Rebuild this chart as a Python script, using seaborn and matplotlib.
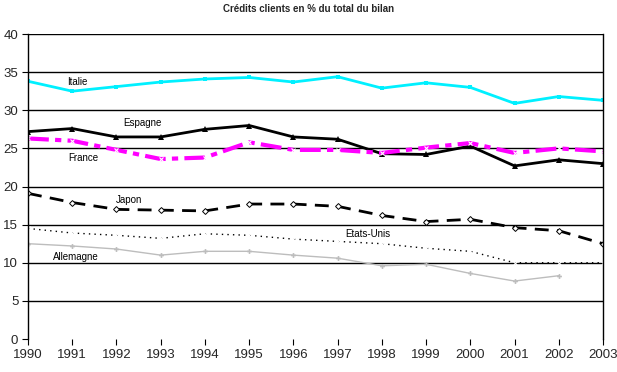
import numpy as np
import matplotlib
matplotlib.use("Agg")
import matplotlib.pyplot as plt
import seaborn as sns

# data
years = list(range(1990, 2004))
italie = [33.8, 32.5, 33.1, 33.7, 34.1, 34.3, 33.7, 34.4, 32.9, 33.6, 33.0, 30.9, 31.8, 31.3]
espagne = [27.2, 27.6, 26.5, 26.5, 27.5, 28.0, 26.5, 26.2, 24.3, 24.2, 25.3, 22.7, 23.5, 23.0]
france = [26.3, 26.0, 24.8, 23.6, 23.8, 25.8, 24.8, 24.8, 24.4, 25.1, 25.7, 24.4, 25.0, 24.6]
japon = [19.1, 17.9, 17.0, 16.9, 16.8, 17.7, 17.7, 17.4, 16.2, 15.4, 15.7, 14.6, 14.2, 12.5]
etats_unis = [14.5, 13.9, 13.6, 13.2, 13.8, 13.6, 13.1, 12.8, 12.5, 11.9, 11.5, 10.0, 10.0, 10.0]
allemagne = [12.5, 12.2, 11.8, 11.0, 11.5, 11.5, 11.0, 10.6, 9.6, 9.8, 8.6, 7.6, 8.3, np.nan]

sns.set_style("white")
plt.rcParams['font.family'] = ['Liberation Sans', 'DejaVu Sans']

fig = plt.figure(figsize=(6.17, 3.72), dpi=100)
ax = fig.add_axes([0.0454, 0.0887, 0.9319, 0.8199])

for y in range(5, 45, 5):
    ax.axhline(y, color='black', lw=1, zorder=1)

sns.lineplot(x=years, y=italie, ax=ax, color='#00F0FF', lw=2, marker='s', markersize=3.5,
             markeredgewidth=0)
sns.lineplot(x=years, y=espagne, ax=ax, color='black', lw=2, marker='^', markersize=4.5,
             markeredgewidth=0)
sns.lineplot(x=years, y=france, ax=ax, color='#FF00FF', lw=3, marker='x', markersize=3,
             markeredgewidth=0.8, linestyle=(0, (5, 1.5, 1.5, 1.5)))
sns.lineplot(x=years, y=japon, ax=ax, color='black', lw=2, marker='D', markersize=3,
             markerfacecolor='white', markeredgecolor='black', markeredgewidth=0.7,
             linestyle=(0, (5, 3)))
sns.lineplot(x=years, y=etats_unis, ax=ax, color='black', lw=1, marker='x', markersize=3,
             markeredgewidth=0.8, linestyle=(0, (1, 3)))
sns.lineplot(x=years, y=allemagne, ax=ax, color='#BDBDBD', lw=1, marker='P', markersize=3.5,
             markeredgewidth=0)

lab = dict(fontsize=7, color='black', va='center', ha='left')
ax.text(1990.88, 33.7, 'Italie', **lab)
ax.text(1992.15, 28.3, 'Espagne', **lab)
ax.text(1990.9, 23.7, 'France', **lab)
ax.text(1991.99, 18.2, 'Japon', **lab)
ax.text(1997.17, 13.8, 'Etats-Unis', **lab)
ax.text(1990.57, 10.75, 'Allemagne', **lab)

ax.set_xlim(1990, 2003)
ax.set_ylim(0, 40)
ax.set_xticks(years)
ax.set_yticks(range(0, 45, 5))
ax.tick_params(axis='both', labelsize=9.5, length=4, direction='out', color='black',
               bottom=True, left=True, pad=3)
for s in ['left', 'right']:
    ax.spines[s].set_color('black')
    ax.spines[s].set_linewidth(1)
for s in ['top', 'bottom']:
    ax.spines[s].set_visible(False)
ax.set_xlabel('')
ax.set_ylabel('')

fig.text(0.5, 0.975, 'Crédits clients en % du total du bilan', ha='center', va='center',
         fontsize=7, fontweight='bold')

fig.savefig('out.png', dpi=100)
